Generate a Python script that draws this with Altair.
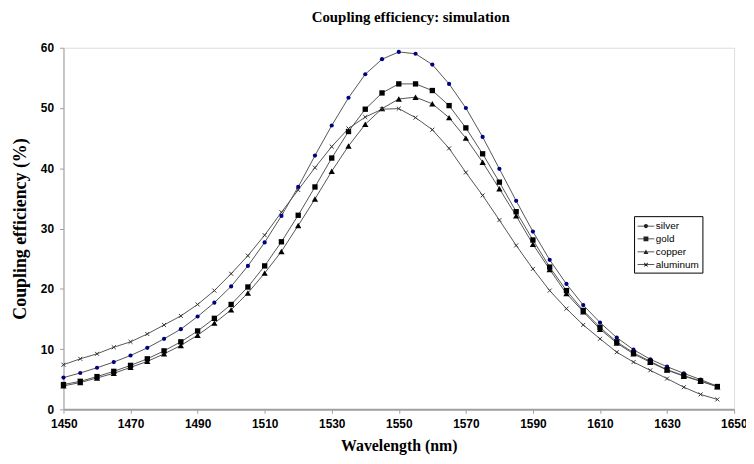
import altair as alt
import pandas as pd

wavelengths = list(range(1450, 1650, 5))

silver = [5.26, 6.03, 6.90, 7.84, 8.93, 10.2, 11.7, 13.3, 15.4, 17.7,
          20.4, 23.8, 27.7, 32.1, 36.9, 42.1, 47.1, 51.7, 55.6, 58.1,
          59.3, 59.0, 57.2, 54.0, 50.0, 45.2, 39.9, 34.6, 29.5, 24.8,
          20.8, 17.3, 14.4, 11.9, 9.9, 8.3, 7.07, 5.97, 4.93, 3.83]
gold = [4.11, 4.65, 5.43, 6.30, 7.29, 8.38, 9.70, 11.2, 13.0, 15.1,
        17.4, 20.3, 23.8, 27.8, 32.2, 36.9, 41.7, 46.1, 49.8, 52.5,
        54.0, 54.0, 52.9, 50.4, 46.7, 42.4, 37.7, 32.8, 28.1, 23.6,
        19.7, 16.4, 13.6, 11.2, 9.37, 7.95, 6.58, 5.59, 4.71, 3.78]
copper = [3.89, 4.44, 5.21, 5.97, 6.96, 7.95, 9.2, 10.6, 12.3, 14.3,
          16.5, 19.3, 22.6, 26.2, 30.5, 34.9, 39.5, 43.7, 47.3, 49.9,
          51.5, 51.8, 50.7, 48.4, 45.0, 41.0, 36.6, 32.1, 27.4, 23.2,
          19.2, 16.2, 13.3, 11.0, 9.2, 7.8, 6.5, 5.5, 4.65, 3.75]
aluminum = [7.40, 8.38, 9.21, 10.3, 11.2, 12.5, 14.0, 15.5, 17.4, 19.7,
            22.5, 25.5, 28.9, 32.7, 36.4, 40.1, 43.6, 46.6, 48.5, 49.8,
            49.9, 48.4, 46.4, 43.3, 39.3, 35.5, 31.4, 27.2, 23.3, 19.7,
            16.7, 14.0, 11.7, 9.48, 7.84, 6.47, 5.1, 3.67, 2.47, 1.64]

metals = ["silver", "gold", "copper", "aluminum"]
series = {"silver": silver, "gold": gold, "copper": copper, "aluminum": aluminum}

rows = []
for m in metals:
    for w, v in zip(wavelengths, series[m]):
        rows.append({"metal": m, "wavelength": w, "eff": v})
df = pd.DataFrame(rows)

x_enc = alt.X("wavelength:Q",
              scale=alt.Scale(domain=[1450, 1650], nice=False, zero=False),
              axis=alt.Axis(values=list(range(1450, 1651, 20)), format="d", title="Wavelength (nm)",
                            titleFont="Liberation Serif", titleFontSize=16, titleFontWeight="bold",
                            titlePadding=9,
                            labelFont="Liberation Sans", labelFontSize=12, labelFontWeight="bold",
                            labelPadding=5, tickSize=4, grid=False,
                            domainColor="#a0a0a0", domainWidth=2, tickColor="#a0a0a0",
                            labelColor="black", titleColor="black",
                            labelFlush=True, labelFlushOffset=13))
y_enc = alt.Y("eff:Q",
              scale=alt.Scale(domain=[0, 60], nice=False),
              axis=alt.Axis(values=list(range(0, 61, 10)), title="Coupling efficiency (%)",
                            titleFont="Liberation Serif", titleFontSize=18, titleFontWeight="bold",
                            titlePadding=11,
                            labelFont="Liberation Sans", labelFontSize=12, labelFontWeight="bold",
                            labelPadding=6, tickSize=4, grid=False,
                            domainColor="#a0a0a0", domainWidth=1, tickColor="#a0a0a0",
                            labelColor="black", titleColor="black"))

base = alt.Chart(df)

lines = base.mark_line(color="#555555", strokeWidth=1).encode(
    x=x_enc, y=y_enc, detail="metal:N")

filled_pts = base.transform_filter(alt.datum.metal != "aluminum").mark_point(
    filled=True, opacity=1).encode(
    x=x_enc, y=y_enc,
    shape=alt.Shape("metal:N", scale=alt.Scale(domain=["silver", "gold", "copper"],
                                               range=["circle", "square", "triangle-up"]),
                    legend=None),
    color=alt.Color("metal:N", scale=alt.Scale(domain=["silver", "gold", "copper"],
                                               range=["#000080", "#000000", "#000000"]),
                    legend=None),
    size=alt.Size("metal:N", scale=alt.Scale(domain=["silver", "gold", "copper"],
                                             range=[18, 40, 30]), legend=None),
)

x_pts = base.transform_filter(alt.datum.metal == "aluminum").mark_point(
    shape="M-1,-1L1,1M-1,1L1,-1", filled=False, stroke="#333333", strokeWidth=1,
    size=16, opacity=1).encode(x=x_enc, y=y_enc)

legend_paths = [
    "M-1.2,-0.06H1.2V0.06H-1.2Z M0.3,0 A0.3,0.3 0 1 1 -0.3,0 A0.3,0.3 0 1 1 0.3,0Z",
    "M-1.2,-0.06H1.2V0.06H-1.2Z M-0.35,-0.35H0.35V0.35H-0.35Z",
    "M-1.2,-0.06H1.2V0.06H-1.2Z M0,-0.35L0.35,0.3L-0.35,0.3Z",
    "M-1.2,-0.06H1.2V0.06H-1.2Z M-0.3,-0.22L-0.22,-0.3L0.3,0.22L0.22,0.3Z M0.22,-0.3L0.3,-0.22L-0.22,0.3L-0.3,0.22Z",
]

legend_layer = base.transform_filter("false").mark_point(
    filled=True, color="#222222", opacity=1).encode(
    x=x_enc, y=y_enc,
    shape=alt.Shape("metal:N", scale=alt.Scale(domain=metals, range=legend_paths),
                    legend=alt.Legend(title=None, orient="none", legendX=576, legendY=170,
                                      strokeColor="#000000", padding=3, fillColor="white",
                                      labelFont="Liberation Sans", labelFontSize=10,
                                      labelColor="black", symbolSize=196, symbolStrokeWidth=0,
                                      rowPadding=1, labelOffset=3, symbolOffset=2)),
)

chart = alt.layer(lines, filled_pts, x_pts, legend_layer).resolve_scale(
    shape="independent", color="independent", size="independent"
).properties(
    width=677, height=365,
    padding={"left": 56, "top": 38, "right": 12, "bottom": 45},
    autosize=alt.AutoSizeParams(type="none"),
    title=alt.TitleParams("Coupling efficiency: simulation", font="Liberation Serif",
                          fontSize=15, fontWeight="bold", color="black",
                          anchor="middle", dx=12, offset=17),
).configure_view(stroke=None).configure(background="white")

chart.save("out.html", embed_options={"renderer": "svg", "actions": False})
